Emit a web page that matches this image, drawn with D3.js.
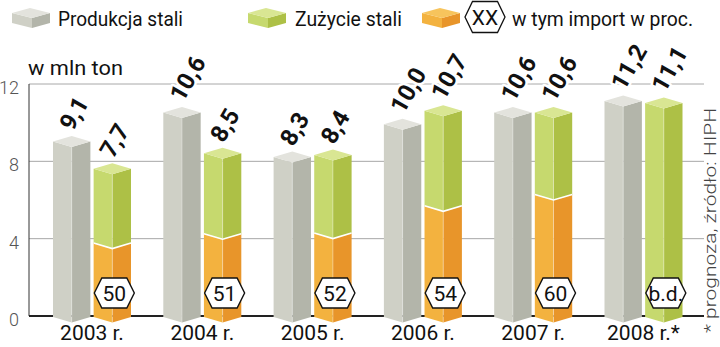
<!DOCTYPE html>
<html><head><meta charset="utf-8">
<script src="https://cdn.jsdelivr.net/npm/d3@7"></script>
<style>body{margin:0;background:#fff}svg{display:block}</style>
</head><body><svg id="c" width="720" height="347"></svg>
<script>
const years = ["2003","2004","2005","2006","2007","2008"];
const yearLabels = ["2003 r.","2004 r.","2005 r.","2006 r.","2007 r.","2008 r.*"];
const production = [9.1,10.6,8.3,10.0,10.6,11.2];
const consumption = [7.7,8.5,8.4,10.7,10.6,11.1];
const importPct = [50,51,52,54,60,null];
const importLabels = ["50","51","52","54","60","b.d."];
const yTicks = [0,4,8,12];
const legendLabels = ["Produkcja stali","Zużycie stali","w tym import w proc."];
const unitLabel = "w mln ton";
const noteLabel = "* prognoza, źródło: HIPH";

const FONT = "Roboto, 'Open Sans', sans-serif";
const C = {
  grey:  {l:"#cfd0c6", r:"#b3b5aa", t:"#e3e3dd"},
  green: {l:"#c6d96e", r:"#adc046", t:"#d9e693"},
  orange:{l:"#f3b23f", r:"#e8952a", t:"#f7c45c"}
};

const svg = d3.select("#c");
const y = d3.scaleLinear().domain([0,12]).range([316,84]);
const xg = d3.scalePoint().domain(years).range([92,643.5]);
const xs = d3.scaleBand().domain(["prod","cons"]).range([-39,39]).paddingInner(0.08);
const bw = xs.bandwidth();
const D = 5.5;
const BASE = 316;

const AX = 29, GX2 = 704;
svg.append("g").selectAll("line").data(yTicks.filter(t=>t>0)).join("line")
  .attr("x1",AX).attr("x2",GX2).attr("y1",d=>y(d)).attr("y2",d=>y(d))
  .attr("stroke","#a8a8a8").attr("stroke-width",1);
svg.append("g").selectAll("text").data(yTicks).join("text")
  .attr("x",19).attr("y",d=>y(d)+10).attr("text-anchor","end")
  .attr("font-family",FONT).attr("font-weight",300).attr("font-size",18)
  .attr("fill","#555").text(d=>d);
svg.append("line").attr("x1",AX).attr("x2",AX).attr("y1",y(12)).attr("y2",BASE)
  .attr("stroke","#333").attr("stroke-width",1);
svg.append("line").attr("x1",AX).attr("x2",GX2).attr("y1",BASE).attr("y2",BASE)
  .attr("stroke","#222").attr("stroke-width",2);

svg.append("text").attr("x",28).attr("y",75).attr("font-family",FONT).attr("font-size",21)
  .attr("fill","#111").attr("textLength",95).attr("lengthAdjust","spacingAndGlyphs").text(unitLabel);

function pts(a){return a.map(p=>p.join(",")).join(" ");}

function drawFaces(g, x0, ytop, ybot, col){
  const xm = x0 + bw/2, x1 = x0 + bw;
  const yb = ybot, ybm = ybot + D;
  g.append("polygon").attr("points",pts([[x0,ytop],[xm,ytop+D],[xm,ybm],[x0,yb]])).attr("fill",col.l);
  g.append("polygon").attr("points",pts([[xm,ytop+D],[x1,ytop],[x1,yb],[xm,ybm]])).attr("fill",col.r);
}
function drawTop(g, x0, ytop, col){
  const xm = x0 + bw/2, x1 = x0 + bw;
  g.append("polygon").attr("points",pts([[x0,ytop],[xm,ytop-D],[x1,ytop],[xm,ytop+D]])).attr("fill",col.t);
}
function hexPath(cx, cy, w, h, ind){
  const x0=cx-w/2, x1=cx+w/2, t=cy-h/2, b=cy+h/2;
  return "M"+[[x0,cy],[x0+ind,t],[x1-ind,t],[x1,cy],[x1-ind,b],[x0+ind,b]].map(p=>p.join(",")).join("L")+"Z";
}
const fmt = v => v.toFixed(1).replace(".",",");

const bars = svg.append("g");
const labels = svg.append("g");
years.forEach((yr,i)=>{
  const gc = xg(yr);
  const px = gc + xs("prod");
  const pt = y(production[i]) + 1.5;
  drawFaces(bars, px, pt, BASE+1, C.grey);
  drawTop(bars, px, pt, C.grey);
  const cx = gc + xs("cons");
  const ct = y(consumption[i]) + 1.5;
  if (importPct[i] != null){
    const it = y(consumption[i]*importPct[i]/100) + 1.5;
    drawFaces(bars, cx, it, BASE+1, C.orange);
    drawFaces(bars, cx, ct, it+0.5, C.green);
    bars.append("polyline").attr("points",pts([[cx,it],[cx+bw/2,it+D],[cx+bw,it]]))
      .attr("fill","none").attr("stroke","#fff").attr("stroke-width",1.6);
  } else {
    drawFaces(bars, cx, ct, BASE+1, C.green);
  }
  drawTop(bars, cx, ct, C.green);
  [[px,pt],[cx,ct]].forEach(([bx,bt])=>{
    bars.append("line").attr("x1",bx+bw/2).attr("x2",bx+bw/2).attr("y1",bt+D).attr("y2",BASE+1+D)
      .attr("stroke","#fff").attr("stroke-opacity",0.45).attr("stroke-width",0.8);
  });
  [[px,production[i]],[cx,consumption[i]]].forEach(([bx,v])=>{
    const lx = bx + bw/2 + 1, ly = y(v) - 8;
    labels.append("text").attr("transform",`translate(${lx},${ly}) rotate(-60)`)
      .attr("font-family",FONT).attr("font-weight",700).attr("font-size",24)
      .attr("fill","#111").attr("stroke","#fff").attr("stroke-width",5)
      .attr("paint-order","stroke").attr("stroke-linejoin","round").text(fmt(v));
  });
  const hx = cx + bw/2 + 2, hy = BASE - 23;
  labels.append("path").attr("d",hexPath(hx,hy,40,30,7.5)).attr("fill","#fff")
    .attr("stroke","#111").attr("stroke-width",1.4);
  labels.append("text").attr("x",hx).attr("y",hy+7.5).attr("text-anchor","middle")
    .attr("font-family",FONT).attr("font-size",21).attr("fill","#111").text(importLabels[i]);
  labels.append("text").attr("x",gc).attr("y",340).attr("text-anchor","middle")
    .attr("font-family",FONT).attr("font-size",21).attr("fill","#111").text(yearLabels[i]);
});

function legendBox(x0, col){
  const g = svg.append("g");
  const w = 38, xm = x0+20, x1 = x0+w, t = 13, d = 5, h = 10;
  g.append("polygon").attr("points",pts([[x0,t],[xm,t+d],[xm,t+d+h],[x0,t+h]])).attr("fill",col.l);
  g.append("polygon").attr("points",pts([[xm,t+d],[x1,t],[x1,t+h],[xm,t+d+h]])).attr("fill",col.r);
  g.append("polygon").attr("points",pts([[x0,t],[xm-2,t-d],[x1,t],[xm,t+d]])).attr("fill",col.t);
}
legendBox(12, C.grey);
legendBox(248, C.green);
legendBox(422, C.orange);
const legText = [[58,125],[295,107],[512,181]];
legendLabels.forEach((s,i)=>{
  svg.append("text").attr("x",legText[i][0]).attr("y",26).attr("font-family",FONT)
    .attr("font-size",21).attr("fill","#111").attr("textLength",legText[i][1])
    .attr("lengthAdjust","spacingAndGlyphs").text(s);
});
svg.append("path").attr("d",hexPath(485,17,40,31,7.5)).attr("fill","#fff")
  .attr("stroke","#111").attr("stroke-width",1.3);
svg.append("text").attr("x",485).attr("y",25).attr("text-anchor","middle")
  .attr("font-family",FONT).attr("font-size",21).attr("fill","#111").text("XX");

svg.append("text").attr("transform","translate(716,333) rotate(-90)")
  .attr("font-family",FONT).attr("font-weight",300).attr("font-size",16.5).attr("fill","#444")
  .attr("textLength",225).attr("lengthAdjust","spacingAndGlyphs").text(noteLabel);
</script></body></html>
